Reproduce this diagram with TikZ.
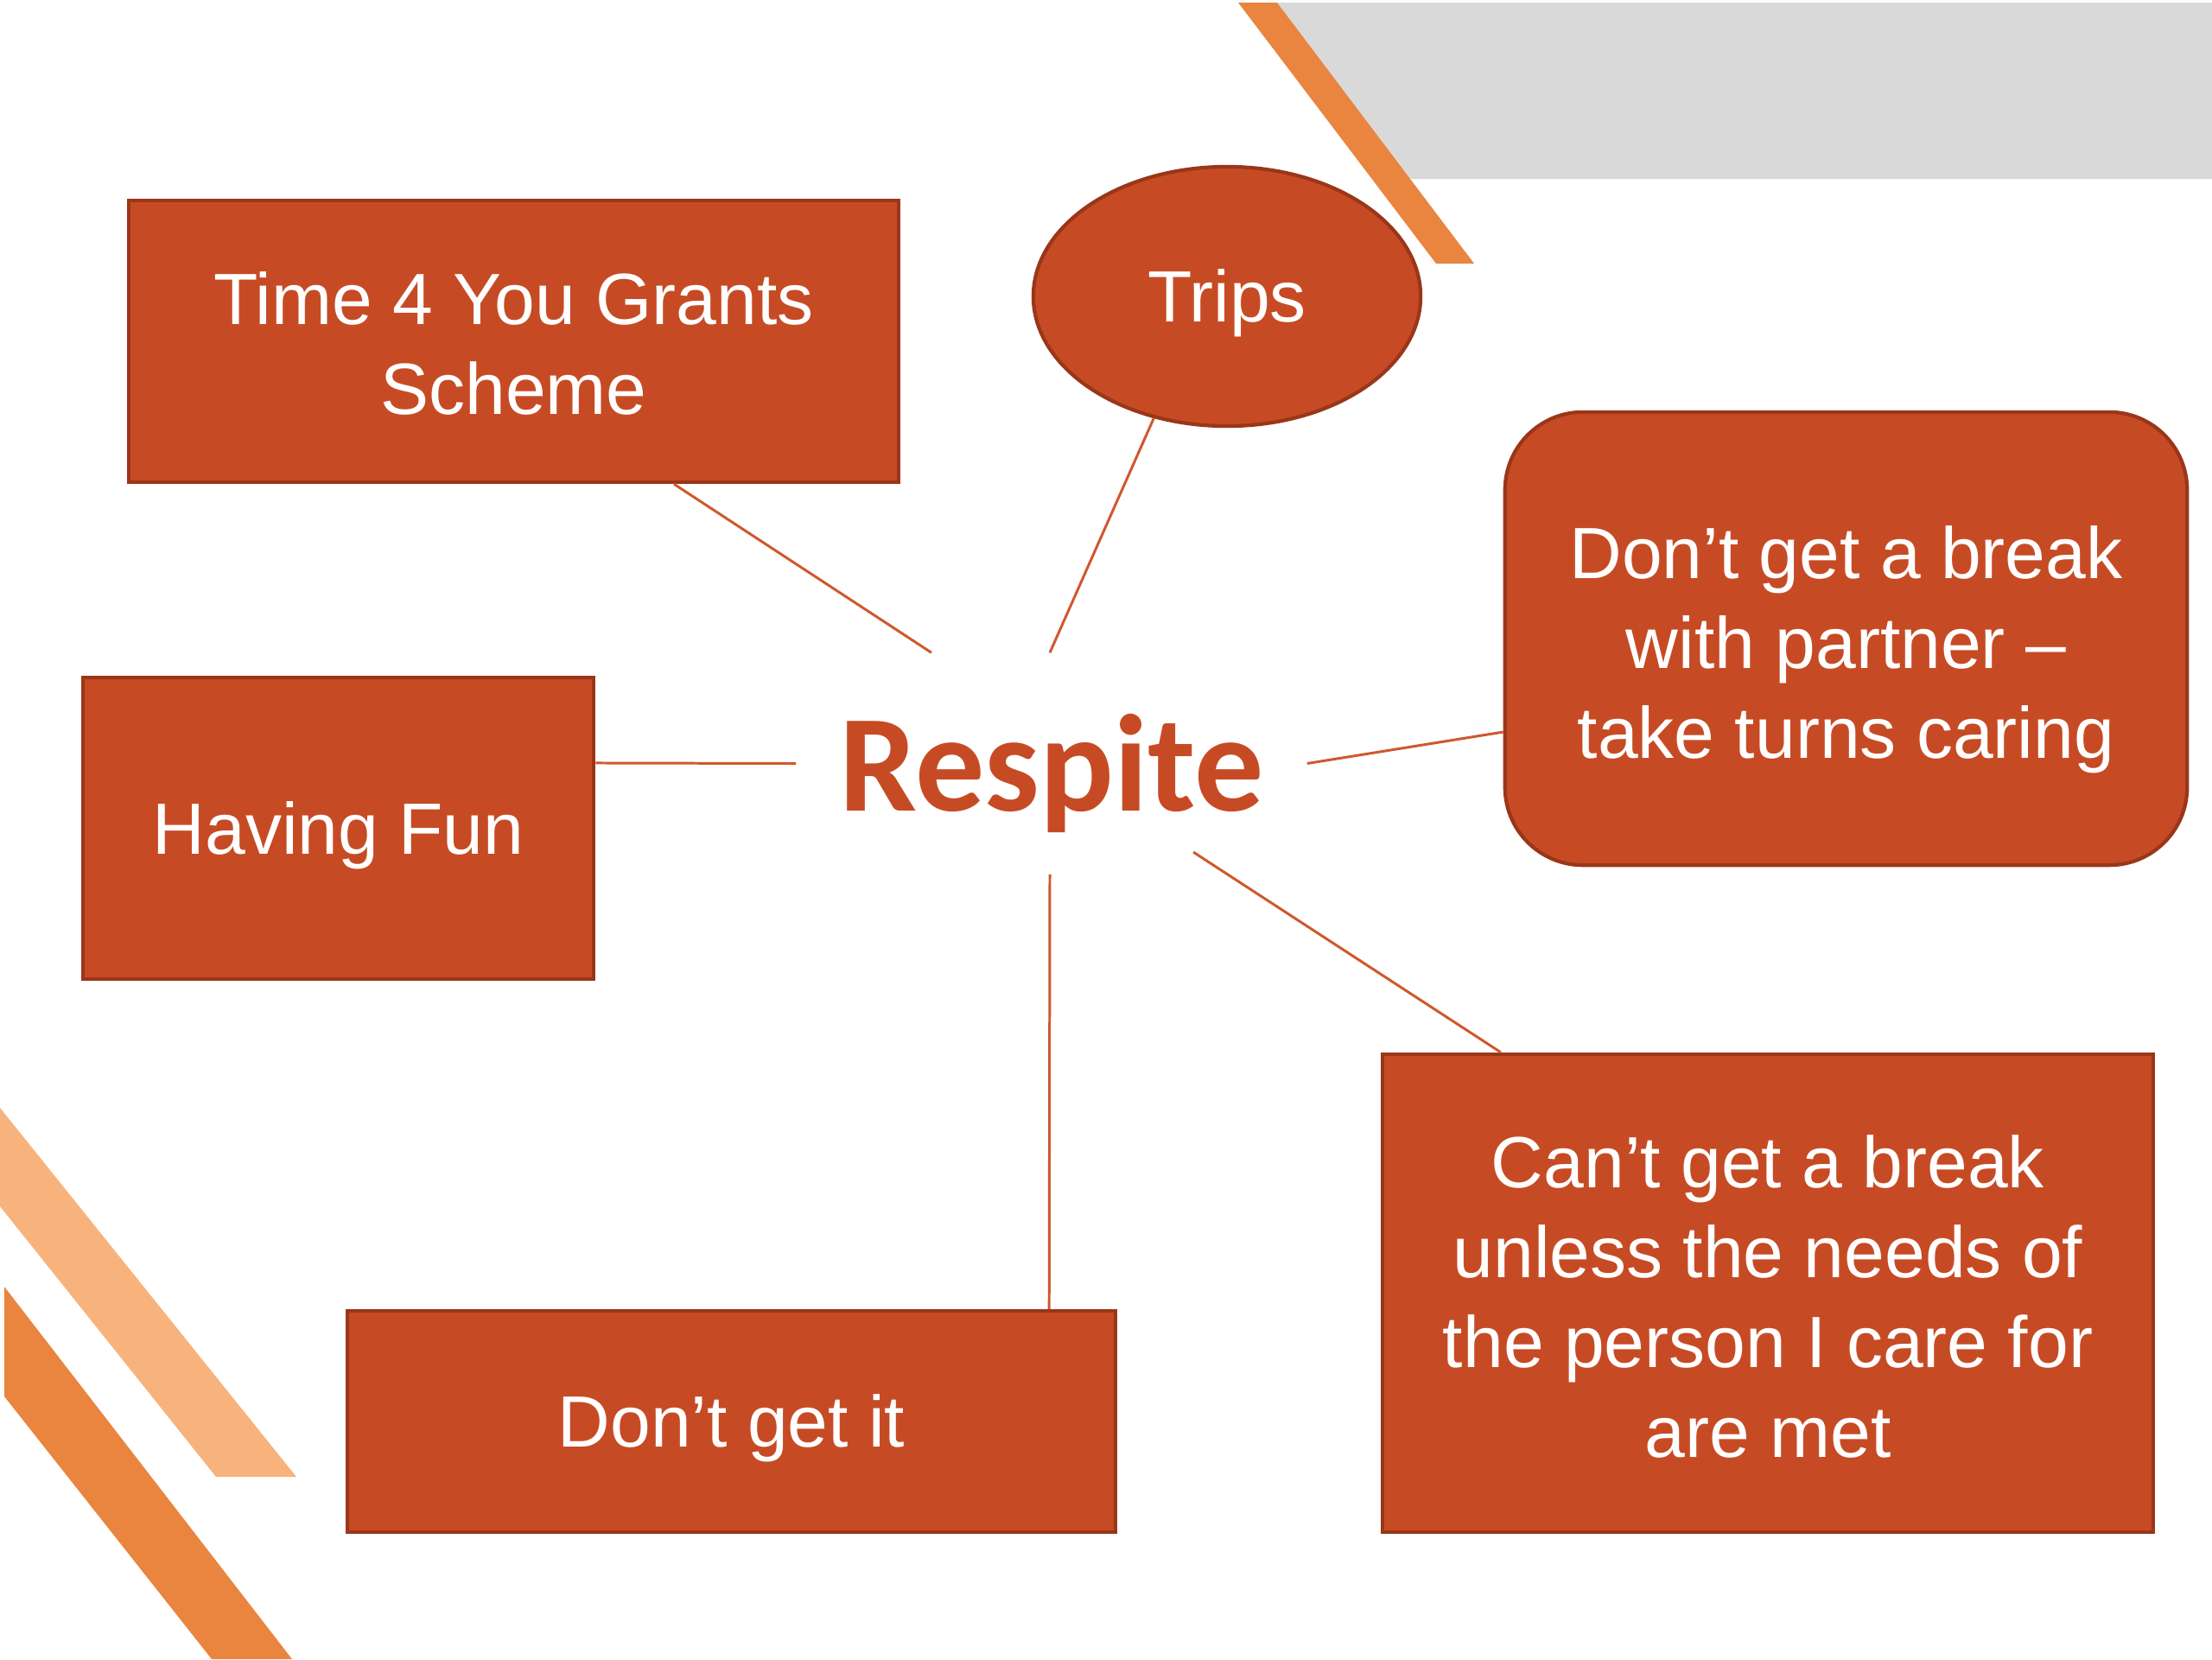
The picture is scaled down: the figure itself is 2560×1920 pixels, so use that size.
\documentclass[tikz,border=0pt]{standalone}
\usepackage{fontspec}
\setmainfont{Liberation Sans}
\newfontfamily\respfont{Carlito}
\usetikzlibrary{shapes.geometric}
\definecolor{boxfill}{HTML}{C64B24}
\definecolor{boxline}{HTML}{9A3619}
\definecolor{stripe}{HTML}{E9853F}
\definecolor{stripelight}{HTML}{F8B27C}
\definecolor{panelgray}{HTML}{D9D9D9}
\definecolor{connline}{HTML}{D0582E}
\newcommand\lowtext[2]{\raisebox{-#1}[\height][\depth]{\begin{tabular}{@{}c@{}}#2\end{tabular}}}
\begin{document}
\begin{tikzpicture}[x=0.01cm,y=-0.01cm,
  basebox/.style={draw=boxline, line width=1.2pt, fill=boxfill, text=white, inner sep=0pt, align=center,
    font=\fontsize{23.9}{29.6}\selectfont},
  box/.style={basebox, execute at begin node={\rule{0pt}{0.77cm}}},
  conn/.style={draw=connline, line width=0.85pt}]
\fill[white] (0,0) rectangle (2560,1920);
\useasboundingbox (0,0) rectangle (2560,1920);
% decorations
\fill[panelgray] (1478,3) -- (2560,3) -- (2560,207) -- (1632,207) -- cycle;
\fill[stripe] (1433,3) -- (1478,3) -- (1706,305) -- (1662,305) -- cycle;
\fill[stripelight] (0,1282) -- (343,1709) -- (250,1709) -- (0,1396) -- cycle;
\fill[stripe] (5,1489) -- (338,1920) -- (245,1920) -- (5,1616) -- cycle;
% nodes
\node[basebox, minimum width=8.91cm, minimum height=3.26cm] (t4y) at (594.5,395) {\lowtext{0.12cm}{Time 4 You Grants\\Scheme}};
\node[box, ellipse, minimum width=4.48cm, minimum height=3cm] (trips) at (1420,343) {Trips};
\node[basebox, rounded corners=0.9cm, minimum width=7.89cm, minimum height=5.24cm] (partner) at (2136.5,739) {\lowtext{0.14cm}{Don’t get a break\\with partner –\\take turns caring}};
\node[box, minimum width=5.91cm, minimum height=3.49cm] (fun) at (391.5,958.5) {Having Fun};
\node[basebox, minimum width=8.92cm, minimum height=5.53cm] (cant) at (2046,1496.5) {\lowtext{0.13cm}{Can’t get a break\\unless the needs of\\the person I care for\\are met}};
\node[box, minimum width=8.89cm, minimum height=2.56cm] (dontget) at (846.5,1645) {Don’t get it};
\node[inner sep=0pt, minimum width=5.9cm, minimum height=2.55cm, text=boxfill,
  font=\respfont\bfseries\fontsize{45.5}{50}\selectfont] (resp) at (1217,883.5) {\raisebox{-0.55cm}[0pt][0pt]{Respite}};
% connectors
\draw[conn] ([xshift=1.855cm]t4y.south) -- ([xshift=-1.39cm]resp.north);
\draw[conn] (trips.239) -- ([xshift=-0.02cm]resp.north);
\draw[conn] ([yshift=0.755cm]fun.east) -- (resp.west);
\draw[conn] ([yshift=-1.08cm]partner.west) -- (resp.east);
\draw[conn] ([shift={(1.64cm,-1.025cm)}]resp.center) -- ([xshift=-3.09cm]cant.north);
\draw[conn] ([xshift=-0.02cm]resp.south) -- ([xshift=3.675cm]dontget.north);
\end{tikzpicture}
\end{document}
